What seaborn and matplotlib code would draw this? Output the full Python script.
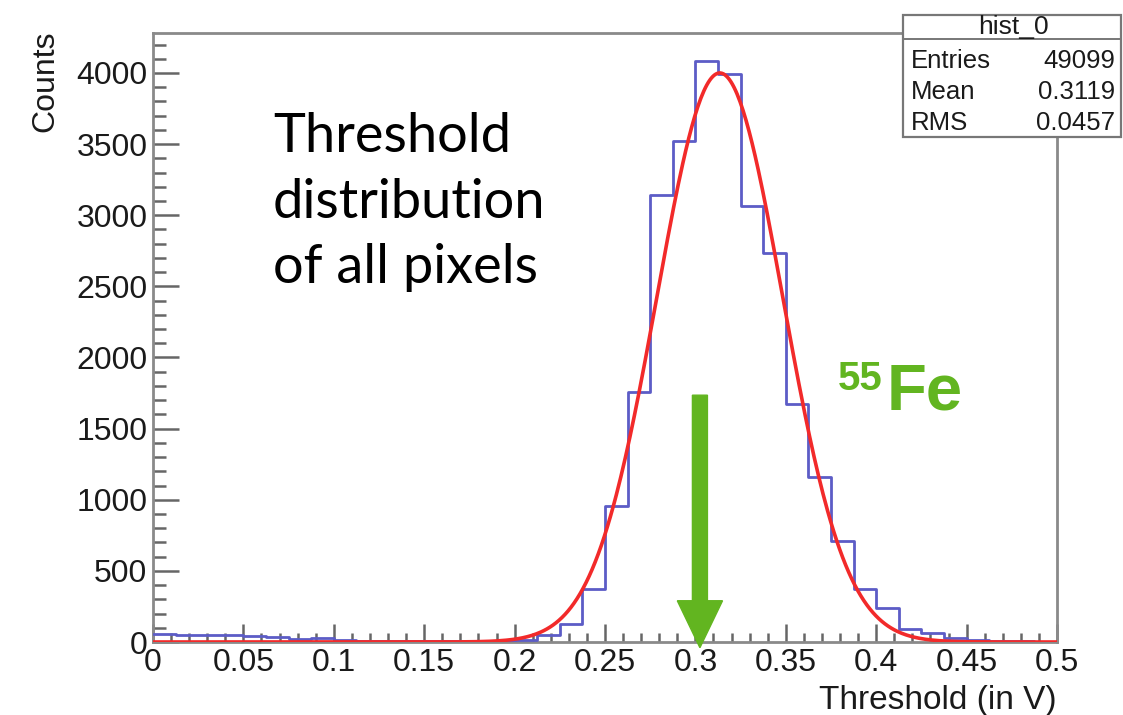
import numpy as np
import pandas as pd
import matplotlib
matplotlib.use("Agg")
import matplotlib.pyplot as plt
from matplotlib.patches import Rectangle, FancyArrow
import seaborn as sns

# ---------------- data ----------------
bin_width = 0.0125
bin_range = (0.0, 0.5)
counts = [55, 50, 52, 48, 40, 35, 20, 25, 12, 8,
          6, 7, 5, 6, 5, 8, 12, 47, 125, 370,
          958, 1756, 3140, 3521, 4085, 3990, 3065, 2735, 1670, 1157,
          707, 373, 242, 94, 61, 30, 15, 8, 5, 2]
fit_amp, fit_mean, fit_sigma = 4000.0, 0.3135, 0.0348
x_ticks = [0, 0.05, 0.1, 0.15, 0.2, 0.25, 0.3, 0.35, 0.4, 0.45, 0.5]
x_tick_labels = ["0", "0.05", "0.1", "0.15", "0.2", "0.25", "0.3", "0.35", "0.4", "0.45", "0.5"]
y_ticks = [0, 500, 1000, 1500, 2000, 2500, 3000, 3500, 4000]
stats_title = "hist_0"
stats_names = ["Entries", "Mean", "RMS"]
stats_values = ["49099", "0.3119", "0.0457"]
arrow_x = 0.3025

# ---------------- style ----------------
sns.set_style("white")
plt.rcParams['font.family'] = ['Liberation Sans', 'DejaVu Sans']

W, H = 1123, 715
fig = plt.figure(figsize=(W / 100, H / 100), dpi=100)
ax = fig.add_axes([153 / W, 1 - 642 / H, (1057 - 153) / W, (642 - 33) / H])

centers = bin_range[0] + bin_width * (np.arange(len(counts)) + 0.5)
df = pd.DataFrame({"x": centers, "w": counts})
sns.histplot(data=df, x="x", weights="w", binwidth=bin_width, binrange=bin_range,
             element="step", fill=False, color="#5c5cc6", linewidth=2.0, ax=ax, zorder=3)

xs = np.linspace(0, 0.5, 600)
fit_df = pd.DataFrame({"x": xs, "y": fit_amp * np.exp(-0.5 * ((xs - fit_mean) / fit_sigma) ** 2)})
sns.lineplot(data=fit_df, x="x", y="y", color="#f22a2a", linewidth=2.6, ax=ax, zorder=4)

ax.set_xlim(0, 0.5)
ax.set_ylim(0, 4281)
ax.set_xticks(x_ticks)
ax.set_xticklabels(x_tick_labels)
ax.set_yticks(y_ticks)
ax.set_yticklabels([str(v) for v in y_ticks])
ax.set_xticks(np.round(np.arange(0, 0.5001, 0.01), 3), minor=True)
ax.set_yticks(np.arange(0, 4281, 100), minor=True)

tick_col = "#666666"
ax.tick_params(axis="both", which="both", direction="in", colors=tick_col,
               labelcolor="#1a1a1a", labelsize=23, width=1.8,
               bottom=True, left=True, top=False, right=False)
ax.tick_params(axis="x", which="major", length=13, pad=4)
ax.tick_params(axis="x", which="minor", length=6.5)
ax.tick_params(axis="y", which="major", length=19, pad=4)
ax.tick_params(axis="y", which="minor", length=9.5)
for s in ax.spines.values():
    s.set_visible(True)
    s.set_color("#8a8a8a")
    s.set_linewidth(2)

ax.set_xlabel("")
ax.set_ylabel("")
fig.text(1057 / W, 1 - 700 / H, "Threshold (in V)", ha="right", va="center",
         fontsize=24, color="#1a1a1a")
fig.text(45 / W, 1 - 31 / H, "Counts", rotation=90, ha="center", va="top",
         fontsize=23, color="#1a1a1a")

# arrow
ax.add_patch(FancyArrow(arrow_x, 1735, 0, -1775, width=0.0083, head_width=0.025,
                        head_length=330, length_includes_head=True,
                        color="#62b520", clip_on=False, zorder=6))

# annotation text
lines = ["Threshold", "distribution", "of all pixels"]
baselines = [152, 218, 283]
for t, b in zip(lines, baselines):
    fig.text(273 / W, 1 - b / H, t, ha="left", va="baseline", fontsize=39,
             family=["Lato", "DejaVu Sans"], color="black")

green = "#62b520"
fig.text(887 / W, 1 - 410 / H, "Fe", ha="left", va="baseline", fontsize=47,
         fontweight="bold", color=green)
fig.text(838 / W, 1 - 390 / H, "55", ha="left", va="baseline", fontsize=29,
         fontweight="bold", color=green)

# stats box
box = Rectangle((903 / W, 1 - 137 / H), (1121 - 903) / W, (137 - 15) / H,
                transform=fig.transFigure, facecolor="white", edgecolor="#777777",
                linewidth=1.6, zorder=10)
fig.add_artist(box)
fig.add_artist(plt.Line2D([903 / W, 1121 / W], [1 - 39 / H, 1 - 39 / H],
                          transform=fig.transFigure, color="#777777", lw=1.4, zorder=11))
fig.text(1013 / W, 1 - 27 / H, stats_title, ha="center", va="center", fontsize=19,
         color="#1a1a1a", zorder=12)
for i, (n, v) in enumerate(zip(stats_names, stats_values)):
    yy = 1 - (61 + 31 * i) / H
    fig.text(911 / W, yy, n, ha="left", va="center", fontsize=18.5, color="#1a1a1a", zorder=12)
    fig.text(1115 / W, yy, v, ha="right", va="center", fontsize=18.5, color="#1a1a1a", zorder=12)

fig.savefig("out.png", dpi=100)
